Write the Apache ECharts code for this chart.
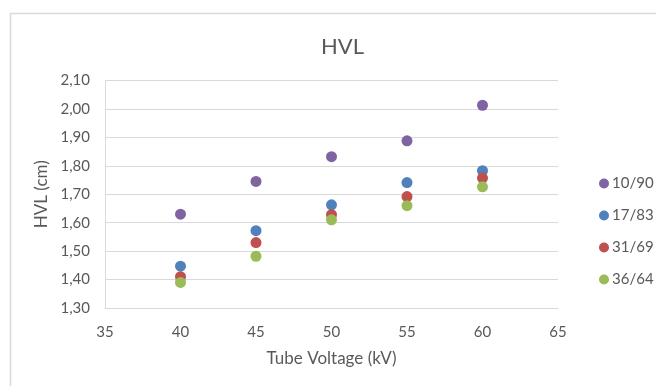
<!DOCTYPE html>
<html>
<head>
<meta charset="utf-8">
<script src="https://cdn.jsdelivr.net/npm/echarts@6/dist/echarts.min.js"></script>
<style>
  html, body { margin: 0; padding: 0; background: #fff; }
  #chart { width: 656px; height: 386px; }
</style>
</head>
<body>
<div id="chart"></div>
<script>
// tube voltage (kV)
const voltages = [40, 45, 50, 55, 60];
const seriesNames = ['10/90', '17/83', '31/69', '36/64'];
const hvl_10_90 = [1.63, 1.745, 1.832, 1.888, 2.013];
const hvl_17_83 = [1.447, 1.572, 1.663, 1.741, 1.783];
const hvl_31_69 = [1.41, 1.53, 1.628, 1.692, 1.757];
const hvl_36_64 = [1.39, 1.482, 1.61, 1.66, 1.726];
const colors = ['#8064A2', '#4F81BD', '#C0504D', '#9BBB59'];

const allValues = [hvl_10_90, hvl_17_83, hvl_31_69, hvl_36_64];
const txt = '#595959';
const font = 'Lato';

let chart = echarts.init(document.getElementById('chart'));

chart.setOption({
  animation: false,
  textStyle: { fontFamily: font },
  graphic: [{
    type: 'rect',
    shape: { x: 10.5, y: 13.5, width: 700, height: 400 },
    style: { fill: 'none', stroke: '#d9d9d9', lineWidth: 1.5 },
    silent: true
  }],
  title: {
    text: 'HVL',
    left: 316,
    top: 31,
    textStyle: { fontFamily: font, fontSize: 22, fontWeight: 'normal', color: txt }
  },
  legend: {
    orient: 'vertical',
    left: 594,
    top: 171,
    icon: 'circle',
    itemWidth: 10,
    itemHeight: 10,
    itemGap: 17,
    textStyle: { fontFamily: font, fontSize: 15, color: txt, lineHeight: 14, padding: [0, 0, 0, -2] },
    data: seriesNames
  },
  grid: { left: 105, right: 98, top: 80.5, bottom: 78 },
  xAxis: {
    type: 'value',
    min: 35, max: 65, interval: 5,
    name: 'Tube Voltage (kV)',
    nameLocation: 'middle',
    nameGap: 42,
    nameTextStyle: { fontFamily: font, fontSize: 17, color: txt },
    axisLine: { show: true, lineStyle: { color: '#d9d9d9' } },
    axisTick: { show: false },
    splitLine: { show: false },
    axisLabel: { fontFamily: font, fontSize: 15, color: txt, margin: 17 }
  },
  yAxis: {
    type: 'value',
    min: 1.3, max: 2.1, interval: 0.1,
    name: 'HVL (cm)',
    nameLocation: 'middle',
    nameGap: 53,
    nameRotate: 90,
    nameTextStyle: { fontFamily: font, fontSize: 17, color: txt },
    axisLine: { show: true, lineStyle: { color: '#d9d9d9' } },
    axisTick: { show: false },
    splitLine: { show: true, lineStyle: { color: '#d9d9d9' } },
    axisLabel: {
      fontFamily: font, fontSize: 15, color: txt, margin: 15,
      formatter: v => v.toFixed(2).replace('.', ',')
    }
  },
  series: seriesNames.map((name, i) => ({
    name: name,
    type: 'scatter',
    symbolSize: 11,
    itemStyle: { color: colors[i], opacity: 1 },
    data: voltages.map((x, j) => [x, allValues[i][j]])
  }))
});
</script>
</body>
</html>
